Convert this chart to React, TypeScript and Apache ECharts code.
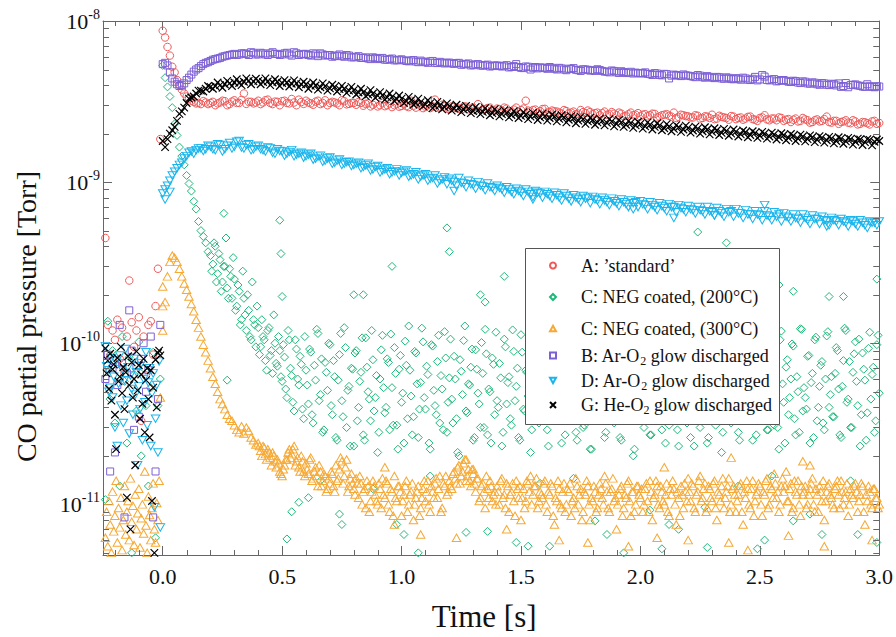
import React, { useEffect, useRef } from "react";
import * as echarts from "echarts";

// ---------- axes ----------
const X_MIN = -0.25;
const X_MAX = 3.0;
const Y_MIN = 4.85e-12;
const Y_MAX = 1e-8;
const X_MINOR_TICKS = [-0.2, -0.1, 0.1, 0.2, 0.3, 0.4, 0.6, 0.7, 0.8, 0.9, 1.1, 1.2, 1.3, 1.4, 1.6, 1.7, 1.8, 1.9, 2.1, 2.2, 2.3, 2.4, 2.6, 2.7, 2.8, 2.9];
const Y_MINOR_MANTISSA = [2, 3, 4, 5, 6, 7, 8, 9];
const Y_DECADES = [-12, -11, -10, -9];

// ---------- sampling ----------
const NANO = 1e-9;      // curve values in 1e-9 Torr
const TEN_PICO = 1e-11; // low values in 1e-11 Torr
const CURVE_DT = 0.02;
const FINE_DT = 0.01;
const PRE_DT = 0.01;
const PRE_DENSE_DT = 0.005;
const PRE_END = -0.01;

const SERIES_NAMES = [
  "A: \u2019standard\u2019",
  "C: NEG coated, (200\u00b0C)",
  "C: NEG coated, (300\u00b0C)",
  "B: Ar-O\u2082 glow discharged",
  "D: Ar-O\u2082 glow discharged",
  "G: He-O\u2082 glow discharged",
];
const LEGEND_RICH = [
  "{f|A: \u2019standard\u2019}",
  "{f|C: NEG coated, (200\u00b0C)}",
  "{f|C: NEG coated, (300\u00b0C)}",
  "{f|B: Ar-O}{s|2}{t| glow discharged}",
  "{f|D: Ar-O}{s|2}{t| glow discharged}",
  "{f|G: He-O}{s|2}{t| glow discharged}",
];

// ---------- A: 'standard' (1e-9 Torr) ----------
const A_PRE = [45, 13, 8.4, 12, 10.5, 14, 8, 12.5, 6.5, 11, 24.5, 13.5, 9.5, 12, 14.5, 3.3, 11, 6.3, 13, 13.7, 8.5, 17, 29, 185];
const A_EVEN = [
  8.7, 6.9, 5.2, 4.3, 3.75, 3.4, 3.2, 3.08, 3.05, 3.12,
  3.1, 3.0, 3.12, 3.18, 3.05, 3.22, 3.1, 3.55, 3.15, 3.08,
  3.2, 3.12, 3.25, 3.05, 3.15, 3.18, 3.1, 3.28, 3.0, 3.14,
  3.2, 3.08, 3.16, 3.05, 3.22, 3.1, 3.12, 3.0, 3.18, 3.06,
  3.1, 3.14, 2.98, 3.08, 3.02, 2.95, 3.1, 3.0, 2.92, 3.05,
  2.97, 2.96, 3.2, 2.9, 3.0, 2.94, 2.88, 3.25, 2.9, 2.95,
  2.85, 2.92, 2.86, 2.95, 2.84, 2.9, 3.05, 2.82, 2.88, 2.8,
  2.86, 2.78, 2.86, 2.75, 2.9, 2.8, 3.2, 2.74, 2.82, 2.76,
  2.85, 2.72, 2.75, 2.7, 2.8, 2.68, 2.74, 2.66, 2.72, 2.78,
  2.64, 2.7, 2.68, 2.62, 2.72, 2.6, 2.66, 2.58, 2.7, 2.62,
  2.56, 2.64, 2.6, 2.65, 2.55, 2.62, 2.58, 2.7, 2.54, 2.6,
  2.56, 2.52, 2.58, 2.5, 2.55, 2.62, 2.48, 2.54, 2.5, 2.57,
  2.46, 2.52, 2.48, 2.55, 2.44, 2.5, 2.6, 2.42, 2.48, 2.52,
  2.4, 2.46, 2.44, 2.38, 2.5, 2.42, 2.36, 2.45, 2.4, 2.55,
  2.34, 2.4, 2.36, 2.42, 2.32, 2.38, 2.3, 2.35, 2.28, 2.4,
  2.33,
];
const A_ODD = [
  7.9, 6.1, 4.8, 4.0, 3.55, 3.3, 3.15, 3.1, 3.18, 3.05,
  3.15, 3.08, 3.2, 3.0, 3.16, 3.1, 3.24, 3.06, 3.15, 3.12,
  3.05, 3.22, 3.1, 3.16, 3.0, 3.2, 3.08, 3.12, 3.25, 3.06,
  3.12, 3.02, 3.2, 3.1, 3.0, 3.15, 3.08, 3.22, 3.04, 3.1,
  3.02, 3.1, 3.06, 2.95, 3.12, 3.0, 2.96, 3.08, 3.0, 2.94,
  3.05, 2.92, 2.98, 3.06, 2.88, 3.0, 2.94, 2.9, 3.02, 2.86,
  2.95, 2.88, 2.82, 2.94, 2.86, 2.8, 2.92, 2.84, 2.9, 2.78,
  2.84, 2.9, 2.76, 2.82, 2.72, 2.86, 2.78, 2.8, 2.7, 2.84,
  2.7, 2.78, 2.74, 2.66, 2.76, 2.7, 2.64, 2.8, 2.68, 2.72,
  2.68, 2.6, 2.74, 2.64, 2.66, 2.7, 2.56, 2.64, 2.6, 2.68,
  2.62, 2.56, 2.66, 2.52, 2.6, 2.64, 2.55, 2.5, 2.62, 2.57,
  2.52, 2.6, 2.48, 2.56, 2.5, 2.46, 2.58, 2.52, 2.44, 2.55,
  2.5, 2.44, 2.54, 2.46, 2.4, 2.52, 2.45, 2.48, 2.42, 2.5,
  2.44, 2.36, 2.48, 2.4, 2.45, 2.34, 2.42, 2.38, 2.46, 2.36,
  2.4, 2.3, 2.38, 2.34, 2.42, 2.28, 2.36, 2.32, 2.38, 2.3,
];

// ---------- C: NEG coated (200 C) (1e-11 Torr) ----------
const C200_PRE = [1.07, 13.7, 4.5, 9, 3.2, 7.4, 1.3, 11, 5.8, 2.4, 8.2, 0.5, 6.4, 3.8, 10.2, 2.0, 7.0, 4.1, 1.3, 5.3, 8.8, 0.62, 4.1, 6.0];
const C200_MAIN = [
  530, 445, 390, 340, 290, 230, 195, 165, 145, 128,
  110, 98, 88, 76, 68, 57, 50, 46, 42, 37,
  35, 31, 40, 27, 33, 24, 30, 22, 29, 19,
  25, 17, 21, 14, 19, 12, 16, 10.5, 14, 9.5,
  12.5,
  9.5, 11, 7.8, 12, 8.4, 6.5, 10, 7.2, 9, 5.8,
  8.2, 4.6, 10.5, 6.3, 3.8, 9.2, 5.5, 7.4, 3.4, 6.8,
  4.2, 8.8, 3.2, 5.9, 11.5, 4.8, 2.8, 7.6, 5.1, 9.8,
  3.6, 6.2, 2.5, 8.5, 4.4, 12.5, 3.0, 5.4, 7.0, 2.3,
  9.0, 4.0, 6.6, 2.7, 10.8, 5.0, 3.3, 7.9, 4.6, 2.1,
  6.0, 11.2, 3.7, 8.0, 2.9, 5.3, 9.4, 3.1, 6.9, 4.3,
  2.4, 7.3, 12.8, 4.7, 3.5, 8.7, 2.6, 5.7, 10.2, 3.9,
  6.4, 2.2, 9.6, 4.1, 7.7, 3.2, 5.2, 11.8, 2.8, 6.1,
  4.5, 8.3, 3.4, 2.0, 6.7, 10.4, 3.8, 5.6, 7.1, 2.5,
  9.1, 4.9, 3.0, 6.5, 12.2, 2.7, 5.0, 8.1, 3.6, 4.4,
  7.5, 2.3, 10.6, 4.2, 6.2, 3.1, 8.9, 5.4, 2.6, 11.3,
  3.9, 6.8, 4.7, 2.1, 9.7, 5.8, 3.3, 7.2, 12.6, 4.0,
  2.9, 6.3, 8.6, 3.5, 5.1, 10.1, 2.4, 4.6, 7.8, 3.7,
  5.5, 11.6, 2.8, 6.9, 4.1, 3.0, 9.3, 5.7, 2.2, 7.4,
  4.8, 3.4, 10.9, 6.0, 2.6, 8.2, 4.3, 12.4, 3.2, 5.9,
  7.6, 2.5, 4.9, 9.9, 3.8, 6.4, 2.0, 8.8, 5.2, 3.6,
  11.0, 4.4, 6.7, 2.7, 7.9, 3.3, 5.6, 10.3, 2.9, 4.5,
  8.4, 3.1, 6.1, 12.1, 4.0, 2.3, 7.3, 5.0, 9.5, 3.5,
  2.6, 6.6, 4.7, 8.0, 3.0, 11.4, 5.3, 2.4, 7.0, 4.2,
  9.2, 3.7, 5.8, 2.1, 6.9, 4.4, 10.7, 3.2, 8.1, 5.5,
  2.8, 7.5, 4.1, 12.7, 3.4, 6.3, 2.5, 9.0, 5.1, 3.9,
  6.8, 10.0, 2.9, 4.8, 8.5, 3.1, 5.7, 2.2, 11.9, 4.3,
  7.1, 3.6, 6.0, 9.6, 2.7, 5.0, 12.3, 3.8, 4.6, 8.3,
  2.4, 6.5, 10.5, 3.3, 5.4, 7.7, 2.9, 11.1, 4.0, 6.2,
  3.5, 9.4, 5.2, 2.6, 7.8, 12.0, 4.5, 3.0, 6.6, 10.2,
  4.1, 2.3, 8.7, 5.9, 3.7, 11.7, 6.4, 2.8, 9.8, 4.9,
];
const C200_HALF_T0 = 0.205;
const C200_HALF = [
  28, 42, 24, 36, 21, 30, 45, 19, 26, 34,
  16, 23, 13, 28, 15, 20, 11, 24, 13, 17,
  8.5, 14, 10.5, 6.8, 12.5, 9, 15, 7.5, 11, 6.2,
  9.8, 5.2, 12, 7, 4.3, 10.5, 6, 8.3, 3.9, 11,
  5.5, 9.2, 3.6, 7.3, 12.2, 4.4, 8, 2.9, 6.6, 10,
  4.1, 7.8, 2.6, 5.9, 11.5, 3.5, 9.4, 5.1, 2.3, 6.9,
  8.7, 3.3, 5.8, 10.8, 2.5, 7.1, 4.5, 12, 3.8, 6.3,
  2.8, 9.1, 5.3, 4.0, 7.6, 11.4, 3.1, 6.5, 2.2, 8.4,
  4.9, 10.3, 3.4, 6.8, 2.7, 8.9, 5.6, 3.9, 12.4, 4.6,
  7.2, 2.4, 9.8, 5.1, 3.6, 11.2, 6.3, 2.9, 8.1, 4.3,
  10.6, 3.2, 6.0, 2.1, 7.9, 4.8, 12.8, 3.7, 5.5, 9.2,
  2.6, 6.9, 4.2, 10.1, 3.0, 8.6, 5.2, 2.4, 7.4, 11.7,
  4.0, 6.1, 2.8, 9.5, 5.7, 3.4, 12.1, 4.4, 7.0, 2.5,
  8.8, 3.8, 6.6, 10.9, 2.9, 5.3, 7.8, 3.2, 4.7, 11.5,
  6.2, 2.3, 9.0, 4.1, 7.5, 3.6, 12.5, 5.0, 2.7, 8.3,
  3.9, 10.4, 5.9, 2.5, 7.1, 4.5, 3.1, 9.7, 6.4, 2.2,
  11.1, 4.2, 7.7, 3.5, 5.6, 2.8, 9.3, 6.8, 3.3, 12.3,
  5.0, 2.6, 8.0, 4.6, 10.7, 3.4, 6.1, 2.2, 7.4, 4.0,
  9.6, 3.0, 5.8, 12.0, 2.7, 6.9, 4.3, 8.5, 3.6, 5.2,
  2.4, 10.2, 6.5, 3.9, 7.8, 2.9, 11.3, 4.8, 6.0, 3.2,
  8.9, 5.4, 2.3, 7.2, 4.1, 10.8, 3.5, 6.7, 2.6, 9.1,
  4.7, 3.1, 11.9, 5.9, 2.8, 8.2, 4.4, 6.6, 3.7, 10.0,
  6.3, 2.5, 7.6, 4.9, 12.6, 3.3, 5.5, 9.4, 2.7, 6.8,
  3.8, 11.0, 5.1, 2.9, 8.7, 4.2, 6.9, 3.0, 10.5, 5.6,
  2.4, 7.9, 4.6, 9.9, 3.4, 6.2, 2.8, 12.2, 5.3, 3.9,
  8.4, 5.7, 2.6, 10.9, 4.0, 7.3, 3.2, 6.0, 11.8, 4.8,
  3.5, 6.5, 9.0, 2.7, 5.4, 12.4, 4.3, 7.7, 3.0, 8.6,
  5.8, 10.6, 3.6, 6.9, 2.5, 9.3, 4.5, 7.1, 3.3, 11.2,
];
const C200_EXTRA = [
  [0.256, 64], [0.27, 5.9], [0.49, 58], [0.495, 36], [0.5, 19.5], [0.8, 20], [0.84, 20], [0.96, 30],
  [1.19, 52], [1.2, 37], [1.43, 26], [1.33, 20], [1.35, 18], [2.24, 49], [2.36, 42], [2.58, 23],
  [2.64, 21], [2.79, 19.5], [2.85, 19.5], [2.99, 25], [0.52, 0.61], [0.54, 0.9], [0.74, 0.87], [0.75, 0.75],
  [1.07, 0.5], [1.17, 0.48], [1.29, 0.48], [1.27, 0.67], [1.36, 0.68], [1.01, 0.65], [0.98, 0.75], [1.48, 0.58],
  [1.53, 0.55], [0.57, 1.03], [0.61, 1.1], [1.62, 0.55], [1.93, 0.5], [2.09, 0.53], [2.28, 0.54], [2.49, 0.53],
  [2.52, 0.6], [2.16, 0.7], [2.12, 0.75], [2.76, 0.65], [2.91, 0.65], [2.99, 0.58], [1.81, 0.79], [1.86, 0.65],
  [2.04, 0.92], [2.27, 0.96], [2.64, 0.79], [2.71, 0.87], [0.66, 1.4], [0.88, 1.25], [1.12, 1.5], [1.58, 1.35],
  [1.72, 1.45], [2.41, 1.3], [2.55, 1.5], [2.88, 1.4],
];

// ---------- C: NEG coated (300 C) (1e-11 Torr) ----------
const C300_PRE = [
  0.62, 0.9, 0.55, 1.05, 0.75, 0.5, 1.2, 0.68, 0.85, 1.4, 0.58, 0.95, 0.72, 1.1, 0.52, 0.8,
  1.3, 0.65, 0.9, 1.05, 0.6, 1.45, 0.78, 0.98, 0.56, 1.15, 0.7, 0.88, 1.25, 0.54, 0.82, 1.0,
  0.66, 1.6, 0.74, 0.5, 1.12, 0.86, 0.6, 0.95, 1.35, 0.7, 0.58, 1.02, 0.8, 1.4, 4.6,
];
const C300_MAIN = [
  12, 18, 26, 32, 35, 34, 32, 29, 26, 23.5,
  21.5, 19.5, 17.5, 15.8, 14, 12.5, 11, 9.8, 8.8, 7.8,
  7.0, 6.2, 5.6, 5.0, 4.5, 4.2, 3.9, 3.6, 3.4, 3.3,
  3.1, 2.9, 2.8, 3.05, 2.75, 3.0, 2.85, 2.6, 2.5, 2.35,
  2.4, 2.15, 2.3, 2.05, 2.2, 1.95, 2.1, 1.85, 1.9, 1.6,
  1.5, 1.75, 1.9, 2.2, 2.05, 2.3, 1.85, 1.7, 2.0, 1.6,
  1.8, 1.55, 1.95, 1.45, 1.7, 1.3, 1.6, 1.4, 1.5, 1.25,
  1.35, 1.55, 1.2, 1.4, 1.65, 1.85, 1.5, 1.9, 1.3, 1.55,
  1.25, 1.45, 1.1, 1.35, 1.2, 0.95, 1.3, 1.05, 1.4, 1.15,
  1.0, 1.25, 1.45, 1.1, 1.35, 0.9, 1.2, 1.5, 1.05, 1.3,
  0.85, 1.15, 1.4, 1.0, 1.2, 0.8, 1.1, 1.3, 0.95, 1.25,
  1.05, 1.4, 0.9, 1.2, 1.35, 1.1, 1.5, 0.95, 1.3, 1.15,
  1.4, 1.25, 1.6, 1.35, 1.75, 1.5, 1.8, 1.4, 1.65, 1.3,
  1.55, 1.2, 1.45, 1.1, 1.35, 0.95, 1.25, 1.4, 1.05, 1.2,
  1.3, 1.0, 1.45, 1.15, 1.35, 0.9, 1.2, 1.05, 1.4, 1.1,
  0.8, 1.25, 1.05, 1.35, 1.5, 1.15, 1.3, 0.95, 1.2, 1.1,
  1.4, 0.9, 1.15, 1.3, 0.75, 1.05, 1.25, 0.95, 1.35, 1.0,
  1.2, 0.85, 1.1, 1.45, 1.0, 1.25, 0.9, 1.15, 1.3, 0.8,
  1.05, 1.2, 0.95, 1.35, 1.1, 1.5, 1.2, 0.9, 1.25, 1.05,
  0.7, 1.15, 1.3, 0.95, 1.1, 1.4, 0.85, 1.2, 1.0, 1.3,
  1.1, 0.9, 1.25, 1.05, 1.4, 0.8, 1.15, 1.3, 0.95, 1.2,
  1.0, 1.35, 0.85, 1.15, 1.25, 0.75, 1.1, 1.3, 0.95, 1.2,
  1.45, 1.05, 1.3, 0.9, 1.2, 1.5, 1.1, 1.35, 0.95, 1.25,
  1.05, 1.4, 0.8, 1.15, 1.3, 0.95, 1.2, 1.45, 1.0, 1.3,
  0.9, 1.15, 1.35, 0.75, 1.1, 1.25, 0.95, 1.4, 1.05, 1.2,
  1.3, 0.85, 1.15, 1.45, 1.0, 1.25, 1.55, 1.1, 0.9, 1.3,
  1.2, 1.6, 1.05, 1.35, 0.95, 1.2, 1.4, 0.85, 1.15, 1.3,
  1.0, 1.25, 1.45, 0.9, 1.15, 1.3, 1.05, 0.8, 1.2, 1.35,
  1.1, 0.95, 1.3, 1.15, 1.4, 1.0, 1.2, 0.85, 1.25, 1.1,
  1.35, 0.9, 1.15, 1.3, 0.75, 1.05, 1.2, 0.95, 1.25, 1.1,
  1.0,
];
const C300_HALF_T0 = 0.405;
const C300_HALF = [
  2.3, 2.0, 2.25, 1.9, 2.1, 1.75, 2.0, 1.7, 1.8, 1.55,
  1.65, 1.9, 2.1, 1.95, 2.2, 1.75, 1.95, 1.6, 1.85, 1.5,
  1.65, 1.9, 1.4, 1.6, 1.5, 1.75, 1.3, 1.55, 1.2, 1.45,
  1.6, 1.3, 1.75, 1.45, 1.95, 1.35, 1.7, 1.2, 1.45, 1.35,
  1.15, 1.35, 1.5, 1.0, 1.25, 1.4, 0.9, 1.2, 1.3, 1.05,
  1.35, 0.95, 1.15, 1.4, 1.0, 1.25, 0.85, 1.1, 1.3, 1.2,
  1.05, 1.3, 0.9, 1.15, 1.35, 1.0, 1.2, 0.85, 1.1, 1.4,
  1.2, 1.0, 1.3, 1.1, 1.45, 1.25, 0.9, 1.35, 1.5, 1.2,
  1.3, 1.55, 1.45, 1.7, 1.35, 1.6, 1.9, 1.5, 1.4, 1.65,
  1.35, 1.45, 1.05, 1.3, 1.2, 1.5, 1.1, 1.3, 1.15, 1.0,
  1.2, 1.4, 1.1, 0.95, 1.3, 1.15, 1.35, 0.85, 1.25, 1.3,
  1.1, 0.95, 1.4, 1.2, 1.0, 1.3, 1.45, 1.05, 1.15, 1.35,
  1.0, 1.2, 1.35, 0.85, 1.1, 1.4, 1.0, 1.2, 0.9, 1.25,
  1.35, 1.05, 0.95, 1.3, 1.15, 0.8, 1.2, 1.4, 1.0, 1.1,
  1.3, 0.9, 1.15, 1.25, 1.0, 1.35, 0.95, 1.2, 1.45, 1.1,
  1.0, 1.25, 0.85, 1.15, 1.35, 1.05, 1.2, 0.9, 1.3, 1.15,
  1.25, 1.0, 1.35, 0.9, 1.2, 1.1, 1.4, 1.0, 1.3, 1.05,
  1.15, 0.9, 1.25, 1.4, 1.0, 1.2, 0.85, 1.15, 1.35, 1.05,
  1.2, 1.35, 0.95, 1.15, 1.4, 1.05, 1.25, 0.9, 1.3, 1.1,
  1.35, 0.95, 1.2, 1.05, 1.45, 1.1, 1.3, 0.9, 1.25, 1.15,
  1.05, 1.3, 0.9, 1.2, 1.4, 1.0, 1.25, 0.85, 1.15, 1.35,
  1.0, 1.2, 1.4, 0.95, 1.3, 1.1, 1.35, 1.2, 1.0, 1.45,
  1.3, 1.05, 1.25, 0.9, 1.4, 1.15, 1.0, 1.3, 1.2, 0.95,
  1.15, 1.35, 1.0, 1.25, 0.9, 1.2, 1.4, 1.05, 1.3, 1.15,
  1.0, 1.25, 1.4, 0.95, 1.2, 1.1, 1.35, 1.0, 1.15, 1.3,
  1.2, 1.05, 1.35, 0.9, 1.15, 1.3, 1.0, 1.25, 1.1, 0.95,
];
const C300_EXTRA = [
  [0.97, 0.75], [1.08, 0.65], [1.23, 0.62], [1.44, 0.7], [1.66, 0.6], [1.78, 0.58], [1.95, 0.55],
  [2.07, 0.62], [2.2, 0.6], [2.37, 0.58], [2.45, 0.52], [2.62, 0.64], [2.77, 0.55], [2.97, 0.6],
  [0.93, 1.7], [1.27, 1.9], [2.1, 1.7], [2.68, 1.85], [1.3, 1.65], [2.38, 1.95], [2.71, 1.75],
  [0.0, 17], [0.0, 22.5],
];

// ---------- B: Ar-O2 glow discharged (1e-9 Torr) ----------
const B_PRE = [6, 8.5, 1.6, 7, 2.1, 5.5, 13, 7.5, 0.83, 6.5, 16, 9, 2.9, 7.2, 3.5, 8, 10, 5, 6.8, 11, 0.83, 1.6, 4.5, 13];
const B_EVEN = [
  5.4, 5.3, 4.4, 4.05, 4.0, 4.3, 4.65, 5.0, 5.25, 5.5,
  5.65, 5.8, 5.9, 6.05, 6.15, 6.25, 6.2, 6.3, 6.15, 6.35,
  6.2, 6.3, 6.15, 6.4, 6.25, 6.2, 6.35, 6.1, 6.3, 6.2,
  6.25, 6.1, 6.2, 6.3, 6.1, 6.15, 6.05, 6.2, 6.0, 6.1,
  5.95, 6.05, 5.9, 5.85, 5.95, 5.8, 5.9, 5.75, 5.85, 5.7,
  5.78, 5.65, 5.7, 5.6, 5.68, 5.55, 5.62, 5.5, 5.58, 5.45,
  5.52, 5.42, 5.5, 5.38, 5.45, 5.32, 5.4, 5.28, 5.36, 5.25,
  5.3, 5.22, 5.32, 5.18, 5.4, 5.12, 5.22, 5.0, 5.18, 5.15,
  5.1, 5.18, 5.05, 5.12, 5.0, 5.06, 5.1, 4.95, 5.02, 4.98,
  4.95, 5.02, 4.9, 4.85, 4.93, 4.8, 4.88, 4.75, 4.84, 4.78,
  4.72, 4.8, 4.68, 4.75, 4.62, 4.7, 4.4, 4.65, 4.58, 4.66,
  4.58, 4.52, 4.62, 4.48, 4.55, 4.45, 4.5, 4.4, 4.47, 4.36,
  4.42, 4.32, 4.4, 4.3, 4.5, 4.34, 4.52, 4.28, 4.36, 4.25,
  4.3, 4.2, 4.26, 4.15, 4.22, 4.1, 4.16, 4.05, 4.12, 4.02,
  4.08, 3.98, 3.9, 4.12, 4.0, 4.04, 3.96, 3.9, 3.94, 3.88,
  3.92,
];
const B_ODD = [
  5.5, 4.8, 4.2, 3.95, 4.1, 4.45, 4.85, 5.1, 5.4, 5.55,
  5.75, 5.85, 6.0, 6.1, 6.2, 6.15, 6.3, 6.25, 6.4, 6.2,
  6.35, 6.2, 6.3, 6.25, 6.15, 6.3, 6.2, 6.4, 6.15, 6.25,
  6.15, 6.3, 6.05, 6.2, 6.15, 6.0, 6.1, 6.05, 6.15, 5.95,
  6.0, 5.9, 5.95, 5.8, 5.9, 5.85, 5.75, 5.8, 5.7, 5.75,
  5.7, 5.62, 5.72, 5.55, 5.6, 5.5, 5.65, 5.48, 5.52, 5.5,
  5.45, 5.48, 5.35, 5.42, 5.3, 5.38, 5.3, 5.32, 5.22, 5.3,
  5.25, 5.28, 5.15, 5.25, 5.18, 5.1, 5.2, 5.12, 5.08, 5.14,
  5.05, 5.12, 5.0, 5.08, 4.95, 5.04, 4.98, 4.9, 5.0, 4.92,
  4.9, 4.96, 4.85, 4.8, 4.9, 4.76, 4.82, 4.78, 4.72, 4.76,
  4.75, 4.7, 4.62, 4.72, 4.6, 4.68, 4.58, 4.62, 4.55, 4.6,
  4.55, 4.48, 4.58, 4.45, 4.5, 4.42, 4.48, 4.38, 4.44, 4.35,
  4.38, 4.45, 4.32, 4.38, 4.28, 4.62, 4.3, 4.34, 4.22, 4.3,
  4.25, 4.18, 4.24, 4.12, 4.2, 4.08, 4.14, 4.02, 4.1, 4.0,
  4.05, 4.1, 3.95, 3.88, 4.02, 3.98, 3.92, 4.05, 3.9, 3.94,
];

// ---------- D: Ar-O2 glow discharged (1e-9 Torr) ----------
const D_PRE = [
  9.6, 7.2, 6.8, 5.0, 5.3, 8.1, 4.6, 6.2, 3.0, 7.8, 2.3, 5.6, 8.4, 4.1, 6.9, 3.2,
  5.9, 9.2, 4.4, 7.1, 2.75, 6.3, 5.2, 3.6, 8.0, 4.8, 6.6, 1.75, 5.4, 3.9, 7.5, 2.5,
  6.0, 4.3, 8.8, 3.1, 5.7, 7.0, 2.3, 4.9, 6.5, 0.96, 3.4, 5.5, 2.1, 7.7, 0.72,
];
const D_EVEN = [
  0.85, 0.95, 1.1, 1.22, 1.32, 1.45, 1.55, 1.58, 1.62, 1.6,
  1.66, 1.58, 1.7, 1.6, 1.75, 1.66, 1.8, 1.62, 1.72, 1.6,
  1.68, 1.58, 1.64, 1.52, 1.6, 1.55, 1.5, 1.58, 1.48, 1.52,
  1.45, 1.5, 1.4, 1.46, 1.36, 1.42, 1.32, 1.38, 1.3, 1.34,
  1.28, 1.32, 1.24, 1.3, 1.2, 1.26, 1.18, 1.22, 1.15, 1.2,
  1.14, 1.18, 1.1, 1.15, 1.08, 1.12, 1.05, 1.1, 1.02, 1.07,
  1.05, 1.0, 1.06, 0.98, 1.02, 0.96, 1.0, 0.94, 0.98, 0.92,
  0.95, 0.9, 0.93, 0.87, 0.91, 0.86, 0.9, 0.84, 0.88, 0.85,
  0.87, 0.82, 0.86, 0.8, 0.85, 0.79, 0.83, 0.78, 0.82, 0.8,
  0.81, 0.77, 0.8, 0.75, 0.79, 0.74, 0.78, 0.73, 0.77, 0.75,
  0.76, 0.72, 0.75, 0.7, 0.74, 0.69, 0.73, 0.7, 0.72, 0.68,
  0.71, 0.67, 0.7, 0.66, 0.7, 0.65, 0.69, 0.64, 0.68, 0.66,
  0.68, 0.64, 0.67, 0.63, 0.66, 0.62, 0.66, 0.61, 0.65, 0.63,
  0.64, 0.6, 0.63, 0.59, 0.63, 0.58, 0.62, 0.59, 0.61, 0.57,
  0.6, 0.57, 0.59, 0.56, 0.58, 0.55, 0.58, 0.54, 0.57, 0.56,
  0.57,
];
const D_ODD = [
  0.9, 1.02, 1.16, 1.28, 1.4, 1.52, 1.5, 1.62, 1.56, 1.68,
  1.6, 1.72, 1.55, 1.68, 1.62, 1.78, 1.64, 1.7, 1.58, 1.66,
  1.6, 1.55, 1.62, 1.5, 1.56, 1.46, 1.54, 1.45, 1.5, 1.42,
  1.48, 1.38, 1.44, 1.34, 1.4, 1.3, 1.36, 1.28, 1.33, 1.26,
  1.3, 1.22, 1.27, 1.18, 1.24, 1.15, 1.2, 1.12, 1.17, 1.1,
  1.16, 1.08, 1.12, 1.04, 1.1, 1.02, 1.06, 0.98, 1.04, 0.97,
  1.02, 0.95, 0.99, 0.93, 0.97, 0.91, 0.95, 0.89, 0.93, 0.88,
  0.92, 0.86, 0.9, 0.84, 0.88, 0.82, 0.87, 0.81, 0.86, 0.8,
  0.84, 0.79, 0.83, 0.77, 0.82, 0.76, 0.8, 0.75, 0.79, 0.74,
  0.78, 0.73, 0.77, 0.72, 0.76, 0.71, 0.75, 0.7, 0.74, 0.7,
  0.73, 0.68, 0.72, 0.67, 0.71, 0.66, 0.7, 0.65, 0.69, 0.65,
  0.68, 0.64, 0.67, 0.63, 0.66, 0.62, 0.66, 0.61, 0.65, 0.61,
  0.64, 0.6, 0.63, 0.59, 0.63, 0.58, 0.62, 0.58, 0.61, 0.57,
  0.61, 0.57, 0.6, 0.56, 0.6, 0.55, 0.59, 0.55, 0.58, 0.54,
  0.58, 0.54, 0.57, 0.53, 0.57, 0.53, 0.56, 0.52, 0.56, 0.54,
];
const D_EXTRA = [[0.01, 0.78], [0.03, 0.87], [1.55, 0.78], [1.97, 0.68], [2.14, 0.6], [2.31, 0.62], [2.78, 0.53], [2.52, 0.72], [1.22, 0.88]];

// ---------- G: He-O2 glow discharged (1e-9 Torr) ----------
const G_PRE = [
  9.3, 6.5, 7.8, 5.2, 8.6, 4.4, 6.9, 7.4, 3.6, 2.2, 8.1, 5.8, 6.2, 9.5, 4.9, 7.1,
  3.9, 6.6, 1.1, 8.3, 5.5, 0.7, 7.6, 4.6, 6.0, 1.75, 8.9, 5.1, 7.3, 3.4, 6.4, 4.2,
  8.0, 2.8, 5.9, 7.0, 4.5, 2.6, 6.8, 1.05, 5.3, 0.5, 7.9, 4.0, 8.7, 9.0, 8.4,
];
const G_EVEN = [
  1.8, 1.85, 2.1, 2.4, 2.75, 3.1, 3.35, 3.55, 3.7, 3.8,
  3.9, 3.95, 4.0, 4.05, 4.1, 4.15, 4.12, 4.2, 4.25, 4.22,
  4.25, 4.18, 4.22, 4.15, 4.2, 4.12, 4.15, 4.08, 4.1, 4.05,
  4.05, 3.96, 3.98, 3.88, 3.94, 3.82, 3.9, 3.78, 3.8, 3.7,
  3.72, 3.6, 3.62, 3.5, 3.55, 3.44, 3.46, 3.36, 3.38, 3.28,
  3.3, 3.18, 3.22, 3.1, 3.14, 3.04, 3.08, 2.97, 3.0, 2.92,
  2.96, 2.86, 2.9, 2.82, 2.86, 2.76, 2.8, 2.73, 2.77, 2.68,
  2.73, 2.64, 2.69, 2.61, 2.66, 2.58, 2.62, 2.55, 2.6, 2.52,
  2.57, 2.5, 2.55, 2.47, 2.52, 2.44, 2.49, 2.41, 2.46, 2.38,
  2.43, 2.35, 2.4, 2.33, 2.38, 2.3, 2.35, 2.27, 2.33, 2.25,
  2.3, 2.22, 2.27, 2.2, 2.25, 2.16, 2.22, 2.14, 2.19, 2.12,
  2.17, 2.09, 2.15, 2.07, 2.12, 2.05, 2.1, 2.02, 2.08, 2.0,
  2.06, 1.98, 2.04, 1.96, 2.02, 1.94, 2.0, 1.92, 1.98, 1.9,
  1.96, 1.88, 1.94, 1.86, 1.92, 1.85, 1.9, 1.83, 1.89, 1.82,
  1.87, 1.8, 1.86, 1.79, 1.85, 1.78, 1.84, 1.77, 1.83, 1.78,
  1.8,
];
const G_ODD = [
  1.65, 2.0, 2.2, 2.65, 2.9, 3.3, 3.4, 3.7, 3.65, 3.95,
  3.8, 4.15, 3.85, 4.25, 3.95, 4.35, 4.0, 4.4, 4.05, 4.38,
  4.05, 4.4, 4.0, 4.35, 3.95, 4.3, 3.92, 4.28, 3.88, 4.2,
  3.8, 4.15, 3.75, 4.1, 3.7, 4.02, 3.65, 3.96, 3.58, 3.9,
  3.5, 3.8, 3.42, 3.72, 3.33, 3.62, 3.25, 3.55, 3.18, 3.45,
  3.1, 3.38, 3.02, 3.3, 2.95, 3.22, 2.88, 3.15, 2.83, 3.08,
  2.78, 3.02, 2.72, 2.97, 2.68, 2.92, 2.64, 2.88, 2.6, 2.84,
  2.56, 2.8, 2.52, 2.76, 2.5, 2.72, 2.46, 2.69, 2.43, 2.66,
  2.41, 2.63, 2.38, 2.6, 2.35, 2.57, 2.32, 2.54, 2.3, 2.51,
  2.27, 2.48, 2.25, 2.46, 2.22, 2.43, 2.2, 2.4, 2.17, 2.37,
  2.15, 2.35, 2.12, 2.32, 2.1, 2.29, 2.07, 2.26, 2.05, 2.24,
  2.03, 2.21, 2.0, 2.19, 1.98, 2.16, 1.96, 2.14, 1.94, 2.12,
  1.92, 2.09, 1.9, 2.07, 1.88, 2.05, 1.86, 2.03, 1.84, 2.01,
  1.82, 1.99, 1.8, 1.97, 1.79, 1.95, 1.77, 1.93, 1.76, 1.91,
  1.74, 1.9, 1.73, 1.88, 1.71, 1.86, 1.7, 1.85, 1.69, 1.84,
];

// ---------- style ----------
const FONT = "Liberation Serif";
const COLORS = ["#ee5a5a", "#1fb87a", "#f6a935", "#7d60d4", "#19b5ec", "#000000"];
const SYMBOLS = [
  "circle",
  "diamond",
  "path://M5,0L10,9L0,9Z",
  "rect",
  "path://M0,0L10,0L5,9Z",
  "path://M0,0L10,10M10,0L0,10",
];
const SYMBOL_SIZES: any[] = [7.5, 8, [8.5, 7.5], 7, [8.5, 7.5], 7.5];
const BORDER_WIDTHS = [1, 1, 1, 1, 1, 1.2];
const LEGEND_ROWS = [266.5, 298, 329.5, 354.5, 379.5, 404];
const AXIS_COLOR = "#666";
const TEXT_COLOR = "#111";

const r3 = (v: number) => Math.round(v * 1000) / 1000;
const onGrid = (vals: number[], t0: number, dt: number, unit: number) =>
  vals.map((v, i) => [r3(t0 + dt * i), v * unit]);
const beforeZero = (vals: number[], dt: number, unit: number) =>
  vals.map((v, i) => [r3(PRE_END - dt * (vals.length - 1 - i)), v * unit]);
const fromPairs = (list: number[][], unit: number) => list.map(([t, v]) => [t, v * unit]);

export default function App() {
  const ref = useRef<HTMLDivElement>(null);

  useEffect(() => {
    if (!ref.current) return;
    const chart = echarts.init(ref.current, null, { renderer: "svg" });

    const seriesData = [
      [
        ...beforeZero(A_PRE, PRE_DT, TEN_PICO),
        ...onGrid(A_EVEN, 0, CURVE_DT, NANO),
        ...onGrid(A_ODD, 0.01, CURVE_DT, NANO),
      ],
      [
        ...beforeZero(C200_PRE, PRE_DT, TEN_PICO),
        ...onGrid(C200_MAIN, 0, FINE_DT, TEN_PICO),
        ...onGrid(C200_HALF, C200_HALF_T0, FINE_DT, TEN_PICO),
        ...fromPairs(C200_EXTRA, TEN_PICO),
      ],
      [
        ...beforeZero(C300_PRE, PRE_DENSE_DT, TEN_PICO),
        ...onGrid(C300_MAIN, 0, FINE_DT, TEN_PICO),
        ...onGrid(C300_HALF, C300_HALF_T0, FINE_DT, TEN_PICO),
        ...fromPairs(C300_EXTRA, TEN_PICO),
      ],
      [
        ...beforeZero(B_PRE, PRE_DT, TEN_PICO),
        ...onGrid(B_EVEN, 0, CURVE_DT, NANO),
        ...onGrid(B_ODD, 0.01, CURVE_DT, NANO),
      ],
      [
        ...beforeZero(D_PRE, PRE_DENSE_DT, TEN_PICO),
        ...onGrid(D_EVEN, 0, CURVE_DT, NANO),
        ...onGrid(D_ODD, 0.01, CURVE_DT, NANO),
        ...fromPairs(D_EXTRA, NANO),
      ],
      [
        ...beforeZero(G_PRE, PRE_DENSE_DT, TEN_PICO),
        ...onGrid(G_EVEN, 0, CURVE_DT, NANO),
        ...onGrid(G_ODD, 0.01, CURVE_DT, NANO),
      ],
    ];

    const scatterSeries = SERIES_NAMES.map((name, i) => ({
      name,
      type: "scatter",
      data: seriesData[i],
      symbol: SYMBOLS[i],
      symbolSize: SYMBOL_SIZES[i],
      itemStyle: { color: "transparent", borderColor: COLORS[i], borderWidth: BORDER_WIDTHS[i], opacity: 1 },
      emphasis: { disabled: true },
      silent: true,
      clip: true,
      large: false,
      z: 2 + i * 0.01,
    }));

    const minorTicks = {
      type: "custom",
      silent: true,
      data: [[1, 1e-10]],
      z: 5,
      renderItem: (params: any, api: any) => {
        const cs = params.coordSys;
        const left = cs.x, right = cs.x + cs.width, top = cs.y, bottom = cs.y + cs.height;
        const children: any[] = [];
        const st = { stroke: AXIS_COLOR, lineWidth: 1 };
        Y_DECADES.forEach((d) => {
          Y_MINOR_MANTISSA.forEach((m) => {
            const v = m * Math.pow(10, d);
            if (v <= Y_MIN || v >= Y_MAX) return;
            const py = Math.round(api.coord([0, v])[1]) + 0.5;
            children.push({ type: "line", shape: { x1: left, y1: py, x2: left + 6, y2: py }, style: st });
            children.push({ type: "line", shape: { x1: right - 6, y1: py, x2: right, y2: py }, style: st });
          });
        });
        X_MINOR_TICKS.forEach((t) => {
          const px = Math.round(api.coord([t, 1e-10])[0]) + 0.5;
          children.push({ type: "line", shape: { x1: px, y1: bottom, x2: px, y2: bottom - 5 }, style: st });
          children.push({ type: "line", shape: { x1: px, y1: top, x2: px, y2: top + 5 }, style: st });
        });
        return { type: "group", children };
      },
    };

    const axisCommon = {
      axisLine: { show: true, onZero: false, lineStyle: { color: AXIS_COLOR, width: 1 } },
      axisTick: { show: true, inside: true, length: 9, lineStyle: { color: AXIS_COLOR, width: 1 } },
      splitLine: { show: false },
    };

    const legendText = {
      f: { fontSize: 18, fontFamily: FONT, color: TEXT_COLOR, lineHeight: 20, padding: [0, 0, 0, 20] },
      t: { fontSize: 18, fontFamily: FONT, color: TEXT_COLOR, lineHeight: 20 },
      s: { fontSize: 12, fontFamily: FONT, color: TEXT_COLOR, lineHeight: 20, padding: [10, 0, 0, 0] },
    };

    chart.setOption({
      animation: false,
      backgroundColor: "#ffffff",
      textStyle: { fontFamily: FONT },
      grid: { left: 103, top: 21, width: 779, height: 537, containLabel: false },
      xAxis: [
        {
          type: "value",
          min: X_MIN,
          max: X_MAX,
          position: "bottom",
          ...axisCommon,
          axisLabel: {
            show: true,
            fontSize: 22,
            fontFamily: FONT,
            color: TEXT_COLOR,
            margin: 10,
            showMinLabel: false,
            formatter: (v: number) => v.toFixed(1),
          },
          name: "Time [s]",
          nameLocation: "middle",
          nameGap: 46,
          nameTextStyle: { fontSize: 31, fontFamily: FONT, color: TEXT_COLOR, padding: [0, 14, 0, 0] },
        },
        {
          type: "value",
          min: X_MIN,
          max: X_MAX,
          position: "top",
          ...axisCommon,
          axisLabel: { show: false },
        },
      ],
      yAxis: [
        {
          type: "log",
          logBase: 10,
          min: Y_MIN,
          max: Y_MAX,
          position: "left",
          ...axisCommon,
          axisLabel: {
            show: true,
            margin: 3,
            showMinLabel: false,
            formatter: (v: number) => `{b|10}{e|${Math.round(Math.log10(v))}}`,
            rich: {
              b: { fontSize: 22, fontFamily: FONT, color: TEXT_COLOR, lineHeight: 24 },
              e: { fontSize: 14, fontFamily: FONT, color: TEXT_COLOR, lineHeight: 24, padding: [0, 0, 13, 0] },
            },
          },
          name: "CO partial pressure [Torr]",
          nameLocation: "middle",
          nameGap: 63,
          nameTextStyle: { fontSize: 28, fontFamily: FONT, color: TEXT_COLOR, padding: [0, 57, 0, 0] },
        },
        {
          type: "log",
          logBase: 10,
          min: Y_MIN,
          max: Y_MAX,
          position: "right",
          ...axisCommon,
          axisLabel: { show: false },
        },
      ],
      tooltip: { show: false },
      legend: SERIES_NAMES.map((name, i) => ({
        data: [name],
        left: 549,
        top: LEGEND_ROWS[i] - 10,
        padding: 0,
        itemWidth: 6,
        itemHeight: 6,
        itemGap: 0,
        selectedMode: false,
        z: 60,
        formatter: () => LEGEND_RICH[i],
        textStyle: { fontSize: 18, fontFamily: FONT, color: TEXT_COLOR, rich: legendText },
      })),
      graphic: [
        {
          type: "rect",
          z: 50,
          silent: true,
          shape: { x: 525.5, y: 248.5, width: 254, height: 176 },
          style: { fill: "#ffffff", stroke: "#555", lineWidth: 1 },
        },
      ],
      series: [...scatterSeries, minorTicks],
    });

    return () => chart.dispose();
  }, []);

  return (
    <div
      ref={ref}
      style={{ position: "absolute", left: 0, top: 0, width: 896, height: 637, background: "#fff" }}
    />
  );
}
